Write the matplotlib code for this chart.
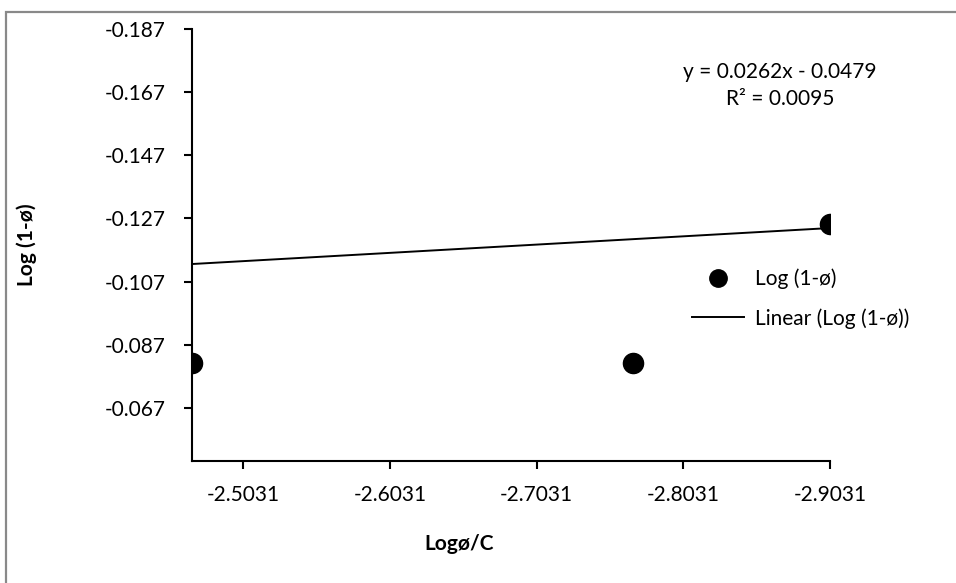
import matplotlib
matplotlib.use('Agg')
import matplotlib.pyplot as plt
from matplotlib.lines import Line2D
from matplotlib.patches import Rectangle

plt.rcParams['font.family'] = ['Lato', 'DejaVu Sans']

# Data
log_phi_c = [-2.4680, -2.7689, -2.9031]
log_1_minus_phi = [-0.0812, -0.0812, -0.1253]

# Linear trendline as reported
slope = 0.0262
intercept = -0.0479
r_squared = 0.0095

x_ticks = [-2.5031, -2.6031, -2.7031, -2.8031, -2.9031]
y_ticks = [-0.187, -0.167, -0.147, -0.127, -0.107, -0.087, -0.067]

fs = 15

fig = plt.figure(figsize=(9.56, 5.83), dpi=100)
ax = fig.add_axes([0.2005, 0.2093, 0.6677, 0.7410])

# scatter points
ax.plot(log_phi_c, log_1_minus_phi, 'o', color='black', markersize=14.5,
        linestyle='none', zorder=3)

# trendline across the data range
x_line = [min(log_phi_c), max(log_phi_c)]
y_line = [slope * v + intercept for v in x_line]
ax.plot(x_line, y_line, color='black', linewidth=1.4)

# both axes reversed
ax.set_xlim(-2.4680, -2.9031)
ax.set_ylim(-0.0502, -0.187)
ax.set_xticks(x_ticks)
ax.set_xticklabels([f'{v:.4f}' for v in x_ticks])
ax.set_yticks(y_ticks)
ax.set_yticklabels([f'{v:.3f}' for v in y_ticks])

for side in ['top', 'right']:
    ax.spines[side].set_visible(False)
for side in ['left', 'bottom']:
    ax.spines[side].set_linewidth(1.5)
ax.tick_params(axis='both', direction='out', length=5.5, width=1.5,
               labelsize=fs, colors='black')
ax.tick_params(axis='x', pad=12)
ax.tick_params(axis='y', pad=13)

ax.set_xlabel('Logø/C', fontsize=fs, fontweight='bold')
ax.set_ylabel('Log (1-ø)', fontsize=fs, fontweight='bold')
ax.xaxis.set_label_coords(0.419, -0.168)
ax.yaxis.set_label_coords(-0.243, 0.5)

# legend
handles = [
    Line2D([], [], marker='o', color='black', linestyle='none', markersize=12.5),
    Line2D([], [], color='black', linewidth=1.4),
]
ax.legend(handles, ['Log (1-ø)', 'Linear (Log (1-ø))'], loc='upper left',
          bbox_to_anchor=(0.784, 0.445), frameon=False, fontsize=fs,
          borderaxespad=0, borderpad=0, handlelength=2.5,
          handletextpad=0.5, labelspacing=0.9)

# trendline equation
fig.text(780 / 956, 1 - 72 / 583, f'y = {slope}x - {abs(intercept)}',
         ha='center', va='center', fontsize=fs)
fig.text(780 / 956, 1 - 99 / 583, f'R² = {r_squared}',
         ha='center', va='center', fontsize=fs)

# chart area border
fig.patches.append(Rectangle((5.5 / 956, -0.05), 1.1, 1.05 - 12 / 583,
                             transform=fig.transFigure, fill=False,
                             edgecolor='#898989', linewidth=1.6))

fig.savefig('out.png', dpi=100)
